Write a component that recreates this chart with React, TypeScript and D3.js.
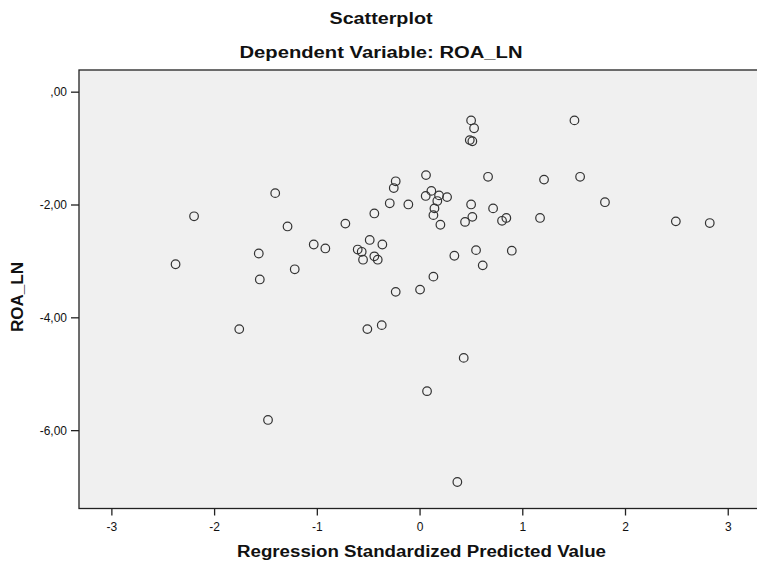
import React from "react";
import * as d3 from "d3";

const predicted = [
  -1.41, -2.20, -1.29, -1.57, -2.38, -1.22, -1.56,
  0.497, 0.526, 0.484, 0.509, 0.058, 0.662, 1.207, -0.237, -0.256, 0.11, 0.055, 0.185, 0.263,
  0.168, -0.295, -0.114, 0.497, 0.711, 0.14, -0.445, 0.13, 0.509, -0.727, 1.168, 0.84, 0.798,
  0.438, 0.198, -1.035, -0.922, -0.49, -0.367, -0.607, -0.568, -0.555, -0.445, -0.412, 0.334,
  0.545, 0.893, 0.61, 0.13, -0.237, 0.0,
  1.503, 1.558, 1.80, 2.49, 2.82,
  -1.76, -0.513, -0.373, -1.48, 0.425, 0.068, 0.363,
];
const roaLn = [
  -1.79, -2.20, -2.38, -2.86, -3.05, -3.14, -3.32,
  -0.50, -0.64, -0.85, -0.87, -1.47, -1.50, -1.55, -1.58, -1.70, -1.75, -1.84, -1.83, -1.86,
  -1.93, -1.97, -1.99, -1.99, -2.06, -2.06, -2.15, -2.18, -2.21, -2.33, -2.23, -2.23, -2.28,
  -2.30, -2.35, -2.70, -2.77, -2.62, -2.70, -2.79, -2.83, -2.97, -2.91, -2.97, -2.90,
  -2.80, -2.81, -3.07, -3.27, -3.54, -3.50,
  -0.50, -1.50, -1.95, -2.29, -2.32,
  -4.20, -4.20, -4.13, -5.81, -4.71, -5.30, -6.91,
];
const xTicks = [-3, -2, -1, 0, 1, 2, 3];
const yTicks = [0, -2, -4, -6];
const yTickLabels = [",00", "-2,00", "-4,00", "-6,00"];

const W = 757;
const H = 562;
const left = 79;
const right = 757;
const top = 70;
const bottom = 508.5;

export default function App() {
  const x = d3.scaleLinear().domain([-3.32, 3.28]).range([left, right]);
  const y = d3.scaleLinear().domain([0.393, -7.38]).range([top, bottom]);
  const font = "'Liberation Sans', Arial, sans-serif";
  return (
    <svg width={W} height={H} style={{ position: "absolute", left: 0, top: 0 }} fontFamily={font}>
      <rect x={0} y={0} width={W} height={H} fill="#ffffff" />
      <text x={381} y={24} textAnchor="middle" fontSize={16} fontWeight="bold" fill="#111" textLength={103} lengthAdjust="spacingAndGlyphs">Scatterplot</text>
      <text x={381} y={58} textAnchor="middle" fontSize={16} fontWeight="bold" fill="#111" textLength={283} lengthAdjust="spacingAndGlyphs">Dependent Variable: ROA_LN</text>
      <rect x={left} y={top} width={right - left + 2} height={bottom - top} fill="#f0f0f0" stroke="#222" strokeWidth={1.3} />
      {yTicks.map((t, i) => (
        <g key={"y" + t}>
          <line x1={left - 8} x2={left} y1={y(t)} y2={y(t)} stroke="#222" strokeWidth={1.3} />
          <text x={left - 12} y={y(t) + 4} textAnchor="end" fontSize={12} fill="#111">{yTickLabels[i]}</text>
        </g>
      ))}
      {xTicks.map((t) => (
        <g key={"x" + t}>
          <line x1={x(t)} x2={x(t)} y1={bottom} y2={bottom + 7} stroke="#222" strokeWidth={1.3} />
          <text x={x(t)} y={bottom + 22} textAnchor="middle" fontSize={12} fill="#111">{String(t)}</text>
        </g>
      ))}
      {predicted.map((v, i) => (
        <circle key={i} cx={x(v)} cy={y(roaLn[i])} r={4.3} fill="none" stroke="#333" strokeWidth={1.2} />
      ))}
      <text x={421.5} y={557} textAnchor="middle" fontSize={16} fontWeight="bold" fill="#111" textLength={369} lengthAdjust="spacingAndGlyphs">Regression Standardized Predicted Value</text>
      <text transform={`translate(23,297) rotate(-90)`} textAnchor="middle" fontSize={16} fontWeight="bold" fill="#111" textLength={70} lengthAdjust="spacingAndGlyphs">ROA_LN</text>
    </svg>
  );
}
